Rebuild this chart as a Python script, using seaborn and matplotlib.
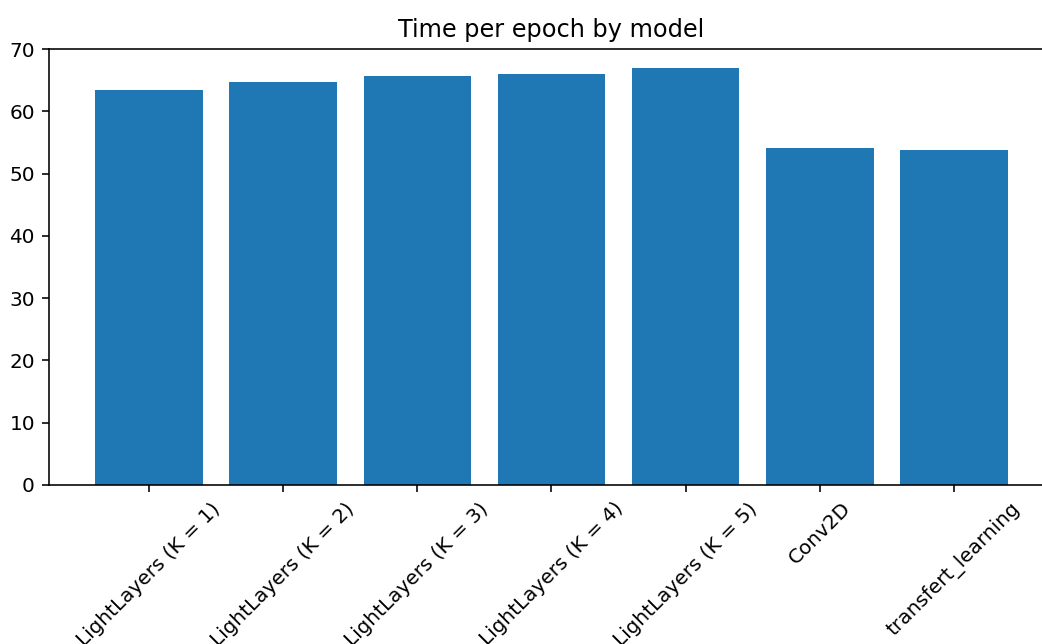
import matplotlib
matplotlib.use("Agg")
import matplotlib.pyplot as plt
import seaborn as sns
import pandas as pd

models = [
    "LightLayers (K = 1)",
    "LightLayers (K = 2)",
    "LightLayers (K = 3)",
    "LightLayers (K = 4)",
    "LightLayers (K = 5)",
    "Conv2D",
    "transfert_learning",
]
epoch_time = [63.4, 64.7, 65.6, 66.0, 66.9, 54.1, 53.8]
y_ticks = [0, 10, 20, 30, 40, 50, 60, 70]

df = pd.DataFrame({"model": models, "time": epoch_time})

dpi = 144
fig = plt.figure(figsize=(1042 / dpi, 644 / dpi), dpi=dpi)
ax = fig.add_axes([0.047, 0.2469, 0.9645, 0.677])

sns.barplot(data=df, x="model", y="time", color="#1f77b4", saturation=1,
            width=0.8, ax=ax)

n = len(models)
ax.set_xlim(-0.745, n - 1 + 0.745)
ax.set_ylim(0, 70)
ax.set_yticks(y_ticks)
ax.set_xlabel("")
ax.set_ylabel("")
ax.set_title("Time per epoch by model")
plt.setp(ax.get_xticklabels(), rotation=45)

fig.savefig("out.png", dpi=dpi)
